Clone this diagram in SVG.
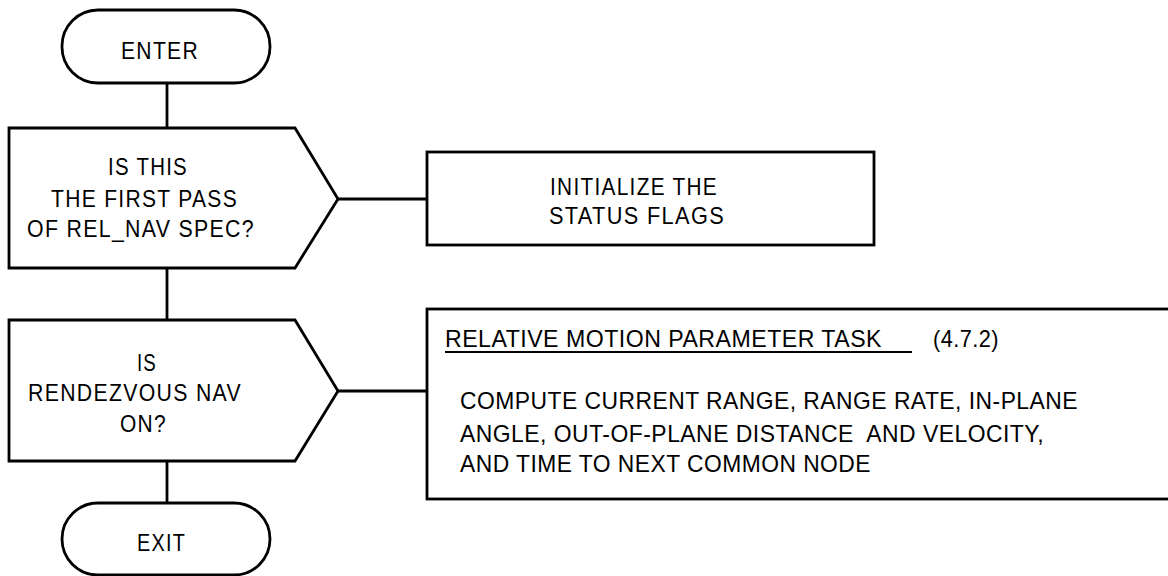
<svg xmlns="http://www.w3.org/2000/svg" width="1168" height="576" viewBox="0 0 1168 576">
<style>
.s{fill:#fff;stroke:#000;stroke-width:2.8}
.c{fill:none;stroke:#000;stroke-width:2.8}
text{font-family:"Liberation Sans",Arial,sans-serif;font-size:24px;letter-spacing:1.5px;fill:#000;white-space:pre}
.b{letter-spacing:0.5px}
</style>
<rect x="0" y="0" width="1168" height="576" fill="#fff"/>
<g id="connectors">
<line class="c" x1="167" y1="83" x2="167" y2="128"/>
<line class="c" x1="338" y1="199" x2="427" y2="199"/>
<line class="c" x1="167" y1="268" x2="167" y2="320"/>
<line class="c" x1="338" y1="391" x2="427" y2="391"/>
<line class="c" x1="167" y1="461" x2="167" y2="503"/>
</g>
<g id="enter">
<rect class="s" x="62" y="10" width="208" height="73" rx="36" ry="36"/>
<text x="121" y="59" textLength="78" lengthAdjust="spacingAndGlyphs">ENTER</text>
</g>
<g id="decision1">
<polygon class="s" points="9,128 295,128 338,199 295,268 9,268"/>
<text x="108" y="175" textLength="80" lengthAdjust="spacingAndGlyphs">IS THIS</text>
<text x="51" y="207" textLength="187" lengthAdjust="spacingAndGlyphs">THE FIRST PASS</text>
<text x="27" y="237" textLength="228" lengthAdjust="spacingAndGlyphs">OF REL_NAV SPEC?</text>
</g>
<g id="init">
<rect class="s" x="427" y="152" width="447" height="93"/>
<text x="550" y="195" textLength="168" lengthAdjust="spacingAndGlyphs">INITIALIZE THE</text>
<text x="549" y="224" textLength="176" lengthAdjust="spacingAndGlyphs">STATUS FLAGS</text>
</g>
<g id="decision2">
<polygon class="s" points="9,320 295,320 338,391 295,461 9,461"/>
<text x="137" y="371" textLength="20" lengthAdjust="spacingAndGlyphs">IS</text>
<text x="28" y="401" textLength="214" lengthAdjust="spacingAndGlyphs">RENDEZVOUS NAV</text>
<text x="120" y="432" textLength="47" lengthAdjust="spacingAndGlyphs">ON?</text>
</g>
<g id="relmotion">
<rect class="s" x="427" y="309" width="760" height="190"/>
<text class="b" x="445" y="347" textLength="437" lengthAdjust="spacingAndGlyphs">RELATIVE MOTION PARAMETER TASK</text>
<line x1="445" y1="352" x2="912" y2="352" stroke="#000" stroke-width="2"/>
<text class="b" x="933" y="347" textLength="66" lengthAdjust="spacingAndGlyphs">(4.7.2)</text>
<text class="b" x="460" y="409" textLength="618" lengthAdjust="spacingAndGlyphs">COMPUTE CURRENT RANGE, RANGE RATE, IN-PLANE</text>
<text class="b" x="460" y="442" textLength="584" lengthAdjust="spacingAndGlyphs">ANGLE, OUT-OF-PLANE DISTANCE  AND VELOCITY,</text>
<text class="b" x="460" y="472" textLength="411" lengthAdjust="spacingAndGlyphs">AND TIME TO NEXT COMMON NODE</text>
</g>
<g id="exit">
<rect class="s" x="62" y="503" width="208" height="72" rx="36" ry="36"/>
<text x="137" y="551" textLength="49" lengthAdjust="spacingAndGlyphs">EXIT</text>
</g>
</svg>
